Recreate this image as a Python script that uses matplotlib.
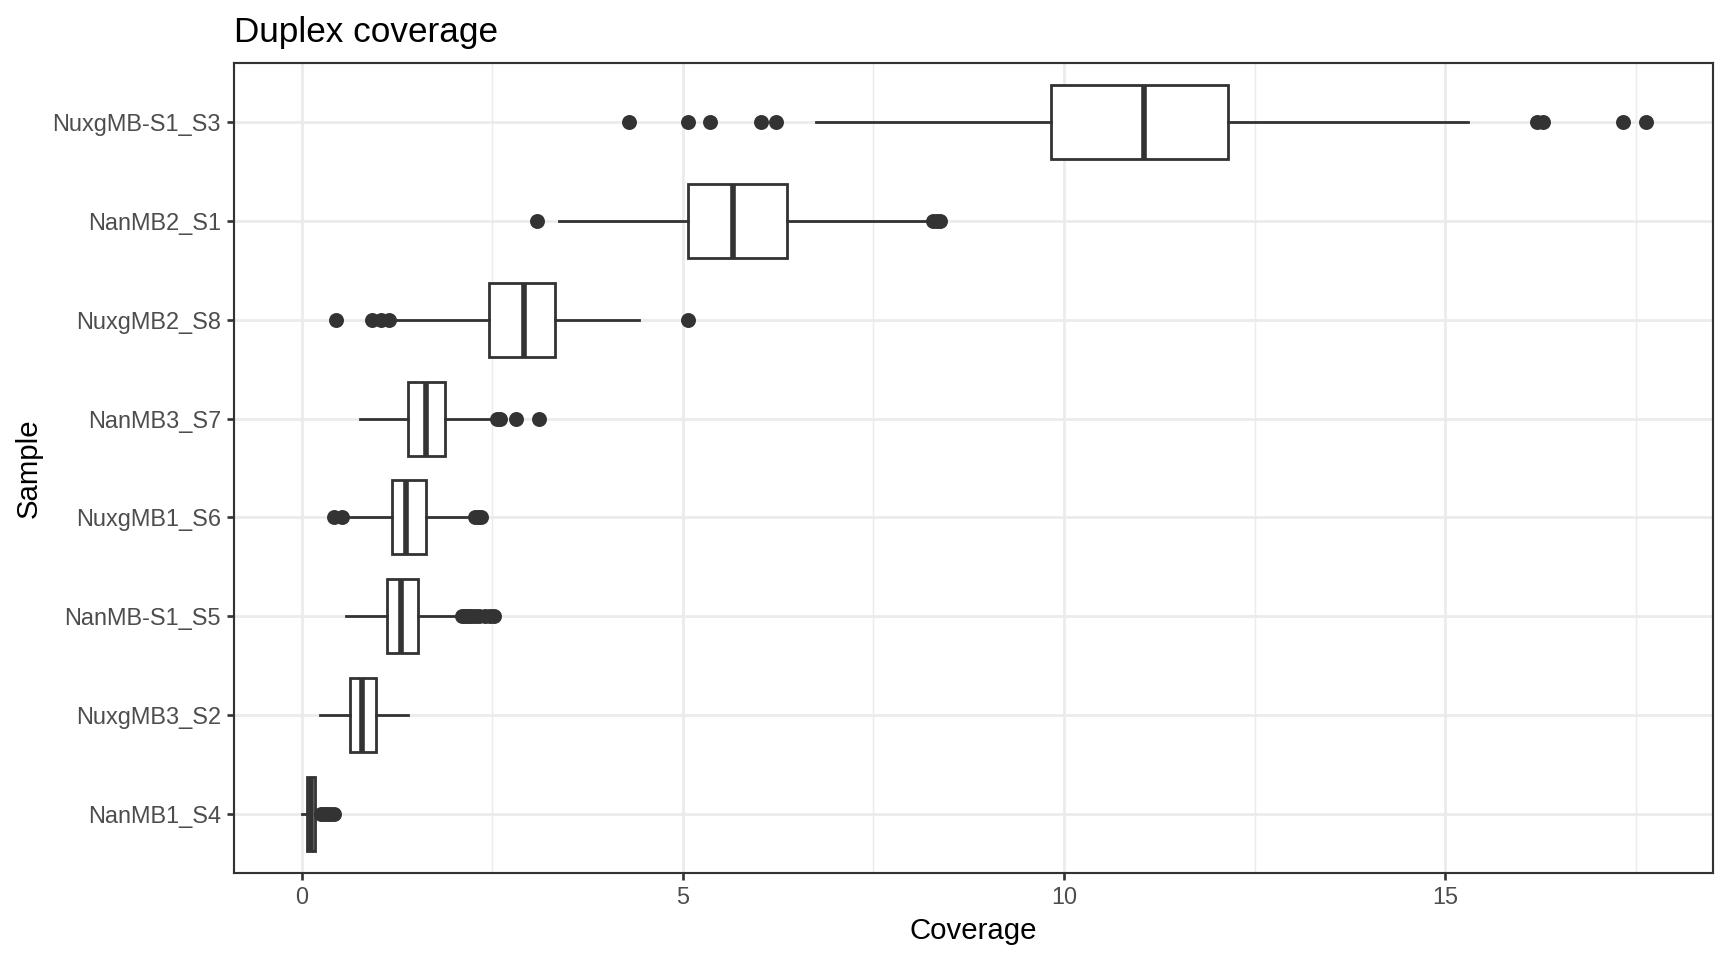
import matplotlib
matplotlib.use("Agg")
import matplotlib.pyplot as plt
from matplotlib.ticker import MultipleLocator

plt.rcParams['font.family'] = ['Liberation Sans', 'DejaVu Sans']

# Samples, bottom to top
samples = ["NanMB1_S4", "NuxgMB3_S2", "NanMB-S1_S5", "NuxgMB1_S6",
           "NanMB3_S7", "NuxgMB2_S8", "NanMB2_S1", "NuxgMB-S1_S3"]

q1 =      [0.075, 0.63, 1.12, 1.18, 1.39, 2.46, 5.07, 9.83]
median =  [0.13, 0.79, 1.31, 1.37, 1.63, 2.92, 5.66, 11.05]
q3 =      [0.18, 0.97, 1.53, 1.63, 1.88, 3.33, 6.36, 12.15]
whislo =  [0.00, 0.245, 0.58, 0.59, 0.76, 1.24, 3.37, 6.74]
whishi =  [0.20, 1.40, 2.07, 2.25, 2.51, 4.43, 8.20, 15.30]
outliers = [
    [0.25, 0.29, 0.33, 0.37, 0.42],
    [],
    [2.11, 2.14, 2.18, 2.22, 2.27, 2.33, 2.40, 2.47, 2.52],
    [0.43, 0.53, 2.28, 2.31, 2.35],
    [2.56, 2.60, 2.81, 3.11],
    [0.455, 0.92, 1.04, 1.15, 5.07],
    [3.09, 8.28, 8.33, 8.37],
    [4.30, 5.07, 5.36, 6.03, 6.22, 16.20, 16.28, 17.33, 17.63],
]

stats = []
for i, s in enumerate(samples):
    stats.append(dict(label=s, q1=q1[i], med=median[i], q3=q3[i],
                      whislo=whislo[i], whishi=whishi[i], fliers=outliers[i]))

fig = plt.figure(figsize=(9, 5), dpi=192)
ax = fig.add_axes([234/1728, 1-873/960, (1713-234)/1728, (873-63)/960])

dark = "#333333"
ax.bxp(stats, positions=range(1, len(samples)+1), vert=False, widths=0.75,
       showcaps=False, patch_artist=True,
       boxprops=dict(facecolor="white", edgecolor=dark, linewidth=1.05),
       medianprops=dict(color=dark, linewidth=2.1, solid_capstyle="butt"),
       whiskerprops=dict(color=dark, linewidth=1.05),
       flierprops=dict(marker="o", markerfacecolor=dark, markeredgecolor=dark,
                       markersize=4.6, linestyle="none"),
       zorder=3)

ax.set_xlim(-0.886, 18.51)
ax.set_ylim(0.4, len(samples)+0.6)
ax.set_yticks(range(1, len(samples)+1))
ax.set_yticklabels(samples)
ax.xaxis.set_major_locator(MultipleLocator(5))
ax.xaxis.set_minor_locator(MultipleLocator(2.5))
ax.set_xticks([0, 5, 10, 15])
ax.set_xticklabels(["0", "5", "10", "15"])

ax.set_axisbelow(True)
ax.grid(True, which="major", color="#EBEBEB", linewidth=1.05, zorder=0)
ax.grid(True, which="minor", axis="x", color="#EBEBEB", linewidth=0.55, zorder=0)
ax.tick_params(axis="both", which="major", length=2.75, width=1.0, color=dark,
               labelsize=8.8, labelcolor="#4D4D4D", pad=2.2)
ax.tick_params(axis="x", which="minor", length=0)
for sp in ax.spines.values():
    sp.set_color(dark)
    sp.set_linewidth(0.8)

ax.set_xlabel("Coverage", fontsize=11, color="black", labelpad=3)
ax.set_ylabel("Sample", fontsize=11, color="black", labelpad=3.5)
ax.set_title("Duplex coverage", loc="left", fontsize=13.2, color="black", pad=8)

fig.savefig("out.png", dpi=192, facecolor="white")
